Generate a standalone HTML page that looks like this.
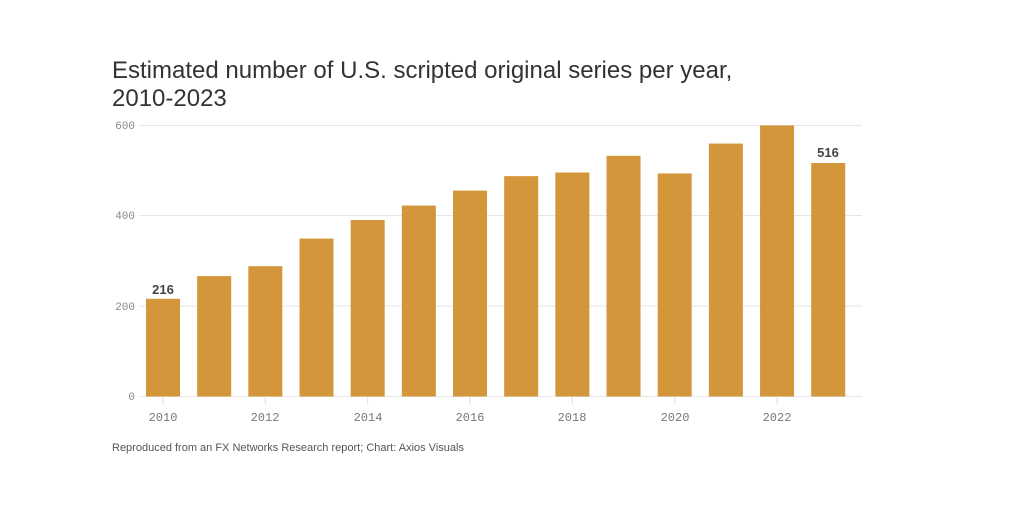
<!DOCTYPE html>
<html><head><meta charset="utf-8"><style>
body{margin:0;background:#fff;width:1024px;height:503px;overflow:hidden}
</style></head><body>
<svg width="1024" height="503" xmlns="http://www.w3.org/2000/svg">
<text x="112" y="78" font-family="Liberation Sans, sans-serif" font-size="24" fill="#333">Estimated number of U.S. scripted original series per year,</text>
<text x="112" y="106" font-family="Liberation Sans, sans-serif" font-size="24" fill="#333">2010-2023</text>
<g stroke="#e6e6e6" stroke-width="1">
<line x1="139" x2="862" y1="125.5" y2="125.5"/>
<line x1="139" x2="862" y1="215.5" y2="215.5"/>
<line x1="139" x2="862" y1="306" y2="306"/>
<line x1="139" x2="862" y1="396.5" y2="396.5"/>
</g>
<g font-family="Liberation Mono, monospace" font-size="11" fill="#888" text-anchor="end">
<text x="135" y="129">600</text><text x="135" y="219">400</text><text x="135" y="310">200</text><text x="135" y="400">0</text>
</g>
<g fill="#d4963a" id="bars"></g>
<g id="ticks" stroke="#ddd"></g>
<g font-family="Liberation Mono, monospace" font-size="12" fill="#777" text-anchor="middle">
<text x="163" y="421">2010</text><text x="265" y="421">2012</text><text x="368" y="421">2014</text><text x="470" y="421">2016</text><text x="572" y="421">2018</text><text x="675" y="421">2020</text><text x="777" y="421">2022</text>
</g>
<g font-family="Liberation Sans, sans-serif" font-size="13" font-weight="bold" fill="#444" text-anchor="middle">
<text x="163" y="294">216</text><text x="828" y="157">516</text>
</g>
<text x="112" y="451" font-family="Liberation Sans, sans-serif" font-size="11" fill="#555">Reproduced from an FX Networks Research report; Chart: Axios Visuals</text>
<script>
var v=[216,266,288,349,390,422,455,487,495,532,493,559,599,516];
var b=document.getElementById('bars'),t=document.getElementById('ticks'),ns='http://www.w3.org/2000/svg';
v.forEach(function(d,i){var c=163+i*51.17,h=d*0.4525;var r=document.createElementNS(ns,'rect');
r.setAttribute('x',c-17);r.setAttribute('width',34);r.setAttribute('y',396.5-h);r.setAttribute('height',h);b.appendChild(r);
if(i%2==0){var l=document.createElementNS(ns,'line');l.setAttribute('x1',c);l.setAttribute('x2',c);l.setAttribute('y1',397);l.setAttribute('y2',404);t.appendChild(l);}});
</script>
</svg>
</body></html>
